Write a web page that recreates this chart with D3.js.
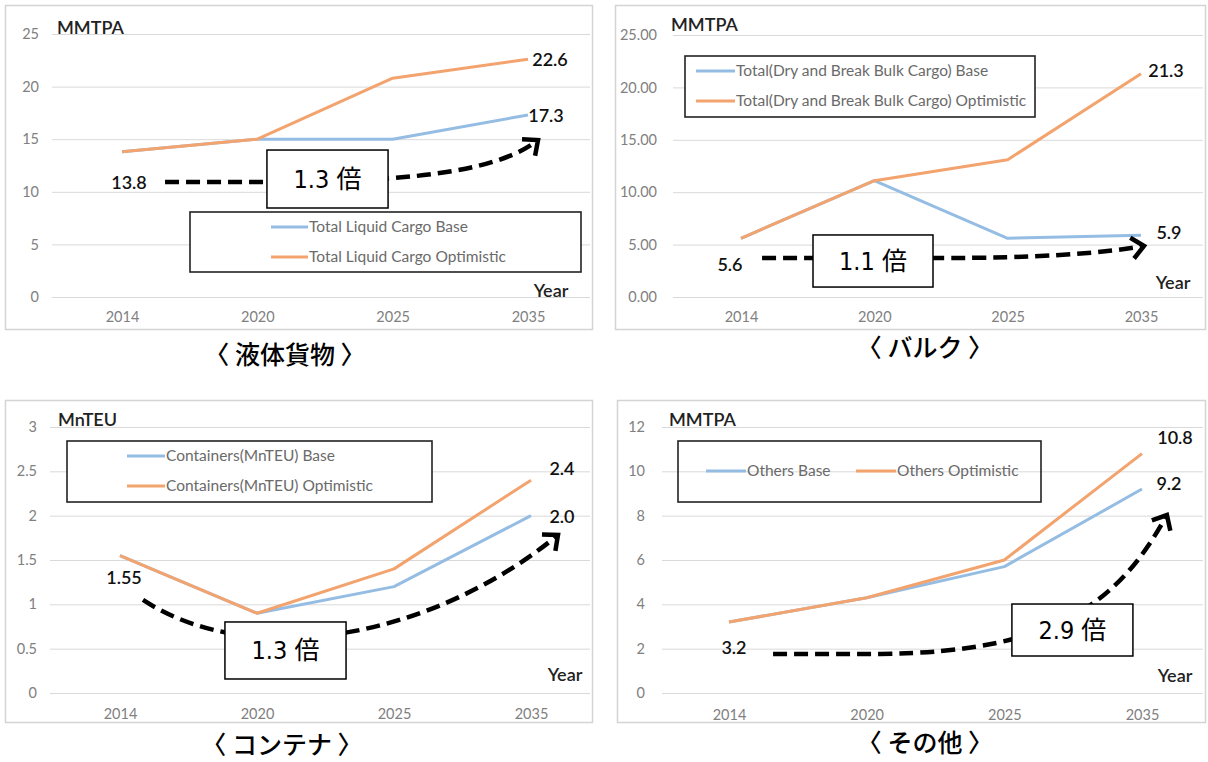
<!DOCTYPE html>
<html>
<head>
<meta charset="utf-8">
<script src="https://cdn.jsdelivr.net/npm/d3@7"></script>
<style>
  html, body { margin: 0; padding: 0; background: #fff; }
  svg { display: block; }
  .tick text { font-family: Lato, "Liberation Sans", sans-serif; font-size: 14.5px; fill: #808080; }
  .ytick line { stroke: #d9d9d9; stroke-width: 1; }
  .domain { display: none; }
</style>
</head>
<body>
<svg id="chart" width="1208" height="762"></svg>
<script>
// Cargo forecasts by category (2014 actual, 2020/2025/2035 projections)
const years = ["2014", "2020", "2025", "2035"];

const liquidBase = [13.8, 15.0, 15.0, 17.3];
const liquidOptimistic = [13.8, 15.0, 20.8, 22.6];
const liquidTicks = [0, 5, 10, 15, 20, 25];

const bulkBase = [5.6, 11.1, 5.6, 5.9];
const bulkOptimistic = [5.6, 11.1, 13.1, 21.3];
const bulkTicks = [0, 5, 10, 15, 20, 25];

const containerBase = [1.55, 0.9, 1.2, 2.0];
const containerOptimistic = [1.55, 0.9, 1.4, 2.4];
const containerTicks = [0, 0.5, 1, 1.5, 2, 2.5, 3];

const othersBase = [3.2, 4.3, 5.7, 9.2];
const othersOptimistic = [3.2, 4.3, 6.0, 10.8];
const othersTicks = [0, 2, 4, 6, 8, 10, 12];

// growth ratio shown in each call-out box
const growthRatios = ["1.3", "1.1", "1.3", "2.9"];

const BLUE = "#95bde3";
const ORANGE = "#f2a36e";

const svg = d3.select("#chart");

// layout of the four panels
const panels = [
  {
    base: liquidBase, opt: liquidOptimistic, ticks: liquidTicks, fmt: d3.format("d"),
    frame: [5, 5, 592, 329], xRange: [122, 528], yRange: [297, 34], yMax: 25, grid: [52, 590], tickPad: 13,
    unit: { text: "MMTPA", x: 57, y: 28 }, yearLbl: { x: 551, y: 291 }, xLabelPad: 15,
    legend: { box: [190, 212, 581, 272], fill: "#fff",
      items: [ { text: "Total Liquid Cargo Base", c: BLUE, x: 271, y: 227, w: 37 },
               { text: "Total Liquid Cargo Optimistic", c: ORANGE, x: 271, y: 257, w: 37 } ] },
    title: { text: "〈 液体貨物 〉", x: 285, y: 355 },
    labels: [ { s: "opt", i: 3, dx: 22, dy: 0 }, { s: "base", i: 3, dx: 18, dy: 1 }, { s: "base", i: 0, dx: 7, dy: 31 } ],
    // call-out arrow in (year index, value) units
    arrow: { start: [0.318, 10.93], line: [1.315, 10.93], c1: [2.202, 11.12], c2: [2.793, 12.07], end: [3.074, 14.92] },
    box: { i0: 1.071, i1: 1.966, v0: 13.97, v1: 8.46 }
  },
  {
    base: bulkBase, opt: bulkOptimistic, ticks: bulkTicks, fmt: d3.format(".2f"),
    frame: [615, 5, 1205, 329], xRange: [741, 1141], yRange: [297, 35], yMax: 25, grid: [673, 1203], tickPad: 16,
    unit: { text: "MMTPA", x: 671, y: 25 }, yearLbl: { x: 1173, y: 283 }, xLabelPad: 15,
    legend: { box: [685, 56, 1035, 117], fill: "#fff",
      items: [ { text: "Total(Dry and Break Bulk Cargo) Base", c: BLUE, x: 696, y: 71, w: 39 },
               { text: "Total(Dry and Break Bulk Cargo) Optimistic", c: ORANGE, x: 696, y: 101, w: 39 } ] },
    title: { text: "〈 バルク 〉", x: 925, y: 348 },
    labels: [ { s: "opt", i: 3, dx: 25, dy: -3 }, { s: "base", i: 3, dx: 28, dy: -2 }, { s: "base", i: 0, dx: -11, dy: 26 } ],
    arrow: { start: [0.158, 3.72], line: [1.4925, 3.72], c1: [2.1675, 3.72], c2: [2.6925, 4.10], end: [3.0225, 4.87] },
    box: { i0: 0.54, i1: 1.44, v0: 5.92, v1: 0.95 }
  },
  {
    base: containerBase, opt: containerOptimistic, ticks: containerTicks, fmt: d3.format("~g"),
    frame: [5, 400, 592, 722], xRange: [120, 531], yRange: [693, 427], yMax: 3, grid: [50, 590], tickPad: 13,
    unit: { text: "MnTEU", x: 58, y: 420 }, yearLbl: { x: 565, y: 675 }, xLabelPad: 16,
    legend: { box: [67, 441, 432, 502], fill: "#fff",
      items: [ { text: "Containers(MnTEU) Base", c: BLUE, x: 127, y: 456, w: 38 },
               { text: "Containers(MnTEU) Optimistic", c: ORANGE, x: 127, y: 486, w: 38 } ] },
    title: { text: "〈 コンテナ 〉", x: 282, y: 745 },
    labels: [ { s: "opt", i: 3, dx: 31, dy: -12 }, { s: "base", i: 3, dx: 31, dy: 1 }, { s: "base", i: 0, dx: 4, dy: 22 } ],
    arrow: { start: [0.168, 1.049], c1: [0.949, 0.259], c2: [2.263, 0.598], end: [3.197, 1.782] },
    box: { i0: 0.766, i1: 1.650, v0: 0.801, v1: 0.158 }
  },
  {
    base: othersBase, opt: othersOptimistic, ticks: othersTicks, fmt: d3.format("d"),
    frame: [617, 400, 1205, 722], xRange: [729, 1142], yRange: [693, 427], yMax: 12, grid: [662, 1203], tickPad: 17,
    unit: { text: "MMTPA", x: 669, y: 420 }, yearLbl: { x: 1175, y: 676 }, xLabelPad: 17,
    legend: { box: [678, 441, 1041, 502], fill: "none",
      items: [ { text: "Others Base", c: BLUE, x: 706, y: 471, w: 40 },
               { text: "Others Optimistic", c: ORANGE, x: 856, y: 471, w: 40 } ] },
    title: { text: "〈 その他 〉", x: 925, y: 743 },
    labels: [ { s: "opt", i: 3, dx: 33, dy: -16 }, { s: "base", i: 3, dx: 27, dy: -5 }, { s: "base", i: 0, dx: 5, dy: 26 } ],
    arrow: { start: [0.320, 1.759], line: [1.097, 1.759], c1: [2.404, 1.849], c2: [2.840, 4.195], end: [3.181, 8.029] },
    box: { i0: 2.055, i1: 2.934, v0: 4.014, v1: 1.669 }
  }
];

panels.forEach((p, k) => drawPanel(p, growthRatios[k]));

function drawPanel(p, ratio) {
  const g = svg.append("g");
  const [fx0, fy0, fx1, fy1] = p.frame;

  // panel frame
  g.append("rect")
    .attr("x", fx0 + 0.5).attr("y", fy0 + 0.5)
    .attr("width", fx1 - fx0).attr("height", fy1 - fy0)
    .attr("fill", "#fff").attr("stroke", "#d4d4d4").attr("stroke-width", 1.5);

  const x = d3.scalePoint().domain(years).range(p.xRange);
  const xi = d3.scaleLinear().domain([0, years.length - 1]).range(p.xRange);
  const y = d3.scaleLinear().domain([0, p.yMax]).range(p.yRange);

  // horizontal gridlines with value labels
  g.append("g").attr("class", "ytick")
    .attr("transform", `translate(${p.grid[0]},0)`)
    .call(d3.axisLeft(y).tickValues(p.ticks).tickFormat(p.fmt)
      .tickSize(-(p.grid[1] - p.grid[0])).tickPadding(p.tickPad));

  // category labels
  g.append("g")
    .attr("transform", `translate(0,${p.yRange[0]})`)
    .call(d3.axisBottom(x).tickSize(0).tickPadding(p.xLabelPad));

  // unit and axis titles
  g.append("text").attr("x", p.unit.x).attr("y", p.unit.y).attr("dy", "0.35em")
    .attr("font-family", "Lato, sans-serif").attr("font-size", 18).attr("font-weight", 600)
    .attr("fill", "#222").text(p.unit.text);
  g.append("text").attr("x", p.yearLbl.x).attr("y", p.yearLbl.y).attr("dy", "0.35em")
    .attr("text-anchor", "middle")
    .attr("font-family", "Lato, sans-serif").attr("font-size", 18).attr("font-weight", 600)
    .attr("fill", "#222").text("Year");

  // series lines
  const line = d3.line().x((d, i) => x(years[i])).y(d => y(d));
  [[p.base, BLUE], [p.opt, ORANGE]].forEach(([vals, c]) => {
    g.append("path").datum(vals).attr("d", line)
      .attr("fill", "none").attr("stroke", c).attr("stroke-width", 3)
      .attr("stroke-linejoin", "round");
  });

  // legend
  const L = p.legend;
  g.append("rect").attr("x", L.box[0]).attr("y", L.box[1])
    .attr("width", L.box[2] - L.box[0]).attr("height", L.box[3] - L.box[1])
    .attr("fill", L.fill).attr("stroke", "#222").attr("stroke-width", 1.6);
  L.items.forEach(it => {
    g.append("line").attr("x1", it.x).attr("x2", it.x + it.w)
      .attr("y1", it.y).attr("y2", it.y)
      .attr("stroke", it.c).attr("stroke-width", 3);
    g.append("text").attr("x", it.x + it.w + 1).attr("y", it.y).attr("dy", "0.35em")
      .attr("font-family", "Lato, sans-serif").attr("font-size", 15.5).attr("fill", "#6a6a6a")
      .text(it.text);
  });

  // value labels
  p.labels.forEach(lb => {
    const vals = lb.s === "opt" ? p.opt : p.base;
    const v = vals[lb.i];
    const txt = (v === 1.55) ? "1.55" : d3.format(".1f")(v);
    g.append("text")
      .attr("x", x(years[lb.i]) + lb.dx).attr("y", y(v) + lb.dy).attr("dy", "0.35em")
      .attr("text-anchor", "middle")
      .attr("font-family", "Lato, sans-serif").attr("font-size", 18).attr("font-weight", 600)
      .attr("fill", "#111").text(txt);
  });

  // dashed growth arrow
  const a = p.arrow;
  const P = q => [xi(q[0]), y(q[1])];
  const s = P(a.start), c1 = P(a.c1), c2 = P(a.c2), e = P(a.end);
  let d = `M${s[0]},${s[1]}`;
  if (a.line) { const l = P(a.line); d += `L${l[0]},${l[1]}`; }
  d += `C${c1[0]},${c1[1]} ${c2[0]},${c2[1]} ${e[0]},${e[1]}`;
  g.append("path").attr("d", d).attr("fill", "none")
    .attr("stroke", "#000").attr("stroke-width", 4.5).attr("stroke-dasharray", "14,7");
  const ang = Math.atan2(e[1] - c2[1], e[0] - c2[0]);
  const hl = 16, spread = 0.72;
  const h1 = [e[0] - hl * Math.cos(ang - spread), e[1] - hl * Math.sin(ang - spread)];
  const h2 = [e[0] - hl * Math.cos(ang + spread), e[1] - hl * Math.sin(ang + spread)];
  g.append("path").attr("d", `M${h1[0]},${h1[1]}L${e[0]},${e[1]}L${h2[0]},${h2[1]}`)
    .attr("fill", "none").attr("stroke", "#000").attr("stroke-width", 4.5)
    .attr("stroke-linejoin", "miter").attr("stroke-linecap", "butt");

  // ratio call-out box
  const b = p.box;
  const bx0 = xi(b.i0), bx1 = xi(b.i1), by0 = y(b.v0), by1 = y(b.v1);
  g.append("rect").attr("x", bx0).attr("y", by0)
    .attr("width", bx1 - bx0).attr("height", by1 - by0)
    .attr("fill", "#fff").attr("stroke", "#000").attr("stroke-width", 1.5);
  g.append("text").attr("x", (bx0 + bx1) / 2).attr("y", (by0 + by1) / 2).attr("dy", "0.36em")
    .attr("text-anchor", "middle")
    .attr("font-family", "'Liberation Sans Narrow', 'DejaVu Sans Condensed', 'Noto Sans CJK JP', sans-serif")
    .attr("font-size", 25).attr("fill", "#000")
    .text(`${ratio} 倍`);

  // panel caption
  g.append("text").attr("x", p.title.x).attr("y", p.title.y).attr("dy", "0.36em")
    .attr("text-anchor", "middle")
    .attr("font-family", "'Noto Sans CJK JP', sans-serif").attr("font-size", 25).attr("font-weight", 500)
    .attr("fill", "#000").text(p.title.text);
}
</script>
</body>
</html>
